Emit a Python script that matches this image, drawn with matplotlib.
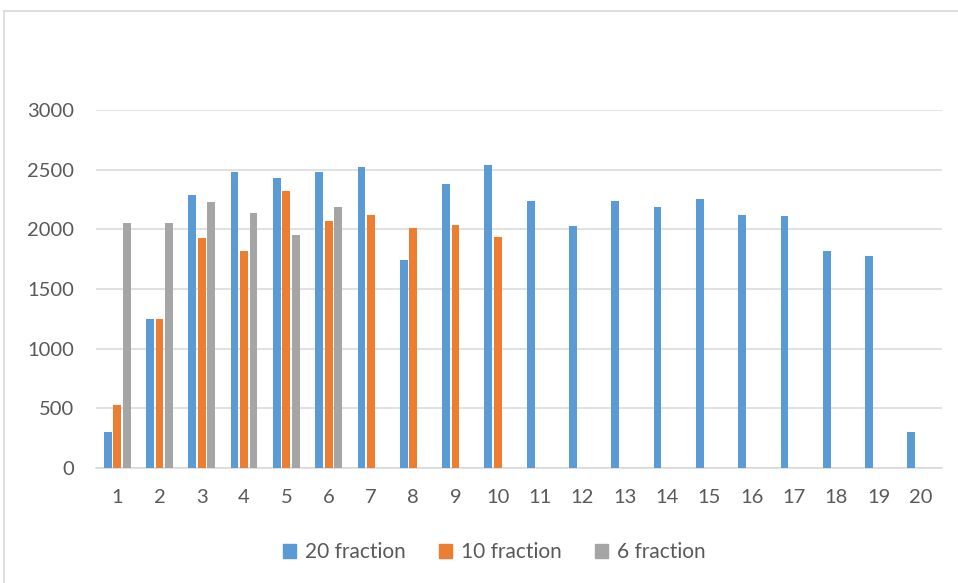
import matplotlib
matplotlib.use("Agg")
import matplotlib.pyplot as plt
from matplotlib.lines import Line2D
import numpy as np

# Dose per fraction group, by fraction index
categories = [str(i) for i in range(1, 21)]
series_names = ["20 fraction", "10 fraction", "6 fraction"]
values_20 = [304, 1251, 2288, 2480, 2427, 2480, 2525, 1740, 2380, 2536,
             2235, 2028, 2235, 2184, 2254, 2120, 2109, 1816, 1774, 302]
values_10 = [531, 1249, 1925, 1816, 2321, 2067, 2117, 2011, 2036, 1936]
values_6 = [2050, 2056, 2226, 2134, 1955, 2187]
colors = ["#5B9BD5", "#ED7D31", "#A5A5A5"]
y_ticks = [0, 500, 1000, 1500, 2000, 2500, 3000]

W, H = 958, 583
fig = plt.figure(figsize=(W / 100, H / 100), dpi=100)
plt.rcParams["font.family"] = ["Lato", "DejaVu Sans"]

ax = fig.add_axes([96 / W, 1 - 468 / H, (942 - 96) / W, (468 - 110) / H])

text_color = "#595959"
grid_color = "#D9D9D9"

width = 0.185
offset = 0.225
all_series = [values_20, values_10, values_6]
for k, (name, vals, col) in enumerate(zip(series_names, all_series, colors)):
    x = np.arange(1, len(vals) + 1) + (k - 1) * offset
    ax.bar(x, vals, width=width, color=col, edgecolor="none",
           label=name, zorder=3)

ax.set_xlim(0.5, 20.5)
ax.set_ylim(0, 3000)
ax.set_yticks(y_ticks)
ax.set_yticklabels([str(v) for v in y_ticks])
ax.set_xticks(np.arange(1, 21))
ax.set_xticklabels(categories)

ax.grid(axis="y", color=grid_color, linewidth=1.1, zorder=0)
ax.set_axisbelow(True)
for side in ["top", "right", "left"]:
    ax.spines[side].set_visible(False)
ax.spines["bottom"].set_color(grid_color)
ax.spines["bottom"].set_linewidth(1.1)

ax.tick_params(axis="both", length=0, labelsize=14.5, colors=text_color)
ax.tick_params(axis="y", pad=16)
ax.tick_params(axis="x", pad=15)

handles = [plt.Rectangle((0, 0), 1, 1, color=c) for c in colors]
fig.legend(handles, series_names, loc="center", bbox_to_anchor=(494 / W, 1 - 552 / H),
           ncol=3, frameon=False, fontsize=15, labelcolor=text_color,
           handlelength=0.65, handleheight=0.65, handletextpad=0.4,
           columnspacing=1.6)

# Chart area border
fig.add_artist(Line2D([4 / W, 4 / W], [0, 1 - 11 / H], transform=fig.transFigure,
                      color=grid_color, linewidth=1.2))
fig.add_artist(Line2D([4 / W, 1], [1 - 11 / H, 1 - 11 / H], transform=fig.transFigure,
                      color=grid_color, linewidth=1.2))

fig.savefig("out.png", dpi=100, facecolor="white")
